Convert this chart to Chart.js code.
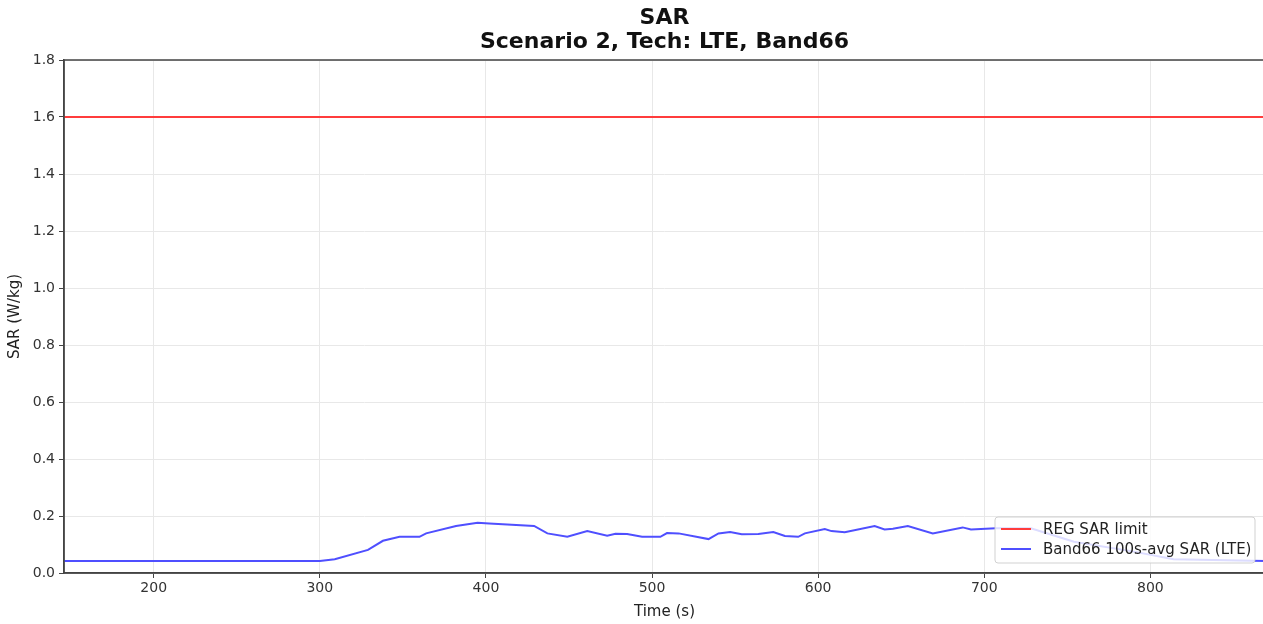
<!DOCTYPE html>
<html>
<head>
<meta charset="utf-8">
<script src="https://cdn.jsdelivr.net/npm/chart.js@4.4.1/dist/chart.umd.min.js"></script>
<style>
  html, body { margin: 0; padding: 0; overflow: hidden; background: #fff; }
  #wrap { width: 1270px; height: 624px; position: relative; }
</style>
</head>
<body>
<div id="wrap"><canvas id="sar"></canvas></div>
<script>
// 100 s averaged SAR, Band66 (LTE)
const timeS = [146, 300, 309, 329, 338, 348, 360, 364, 382, 395, 402, 429, 437, 449, 461, 473, 478, 485,
  494, 505, 509, 516, 534, 540, 547, 554, 564, 573, 580, 588, 592, 604, 608, 616, 634, 640, 645, 654,
  669, 687, 692, 707, 728, 754, 790, 814, 869]
const sarAvg = [0.042, 0.042, 0.048, 0.081, 0.113, 0.127, 0.127, 0.139, 0.165, 0.176, 0.174, 0.165, 0.139,
  0.127, 0.147, 0.131, 0.138, 0.137, 0.127, 0.127, 0.140, 0.139, 0.119, 0.139, 0.144, 0.136, 0.137, 0.144,
  0.130, 0.127, 0.139, 0.154, 0.147, 0.143, 0.165, 0.153, 0.155, 0.165, 0.139, 0.160, 0.153, 0.157,
  0.157, 0.110, 0.075, 0.048, 0.042]
const sarLimit = 1.6
const xRange = [146, 869]
const xTicks = [200, 300, 400, 500, 600, 700, 800]
const yTicks = [0, 0.2, 0.4, 0.6, 0.8, 1.0, 1.2, 1.4, 1.6, 1.8]
const titleLines = ['SAR', 'Scenario 2, Tech: LTE, Band66']

const FONT = 'DejaVu Sans'
const SPINE = '#444'

// title centred over the axes rather than the canvas
const axesTitle = {
  id: 'axesTitle',
  afterDraw(chart) {
    const { ctx, chartArea: a } = chart
    const cx = (a.left + a.right) / 2
    ctx.save()
    ctx.font = `bold 22px "${FONT}"`
    ctx.fillStyle = '#111'
    ctx.textAlign = 'center'
    ctx.textBaseline = 'middle'
    titleLines.forEach((t, i) => ctx.fillText(t, cx, 18 + i * 24))
    ctx.restore()
  }
}

// top/right spines, matplotlib style
const framePlugin = {
  id: 'frame',
  afterDatasetsDraw(chart) {
    const { ctx, chartArea: a } = chart
    ctx.save()
    ctx.strokeStyle = SPINE
    ctx.lineWidth = 1.5
    ctx.strokeRect(a.left, a.top, a.right - a.left, a.bottom - a.top)
    ctx.restore()
  }
}

// legend box in the lower right corner of the plot
const cornerLegend = {
  id: 'cornerLegend',
  afterDraw(chart) {
    const { ctx, chartArea: a } = chart
    const w = 260, h = 46
    const x = a.right - 10 - w, y = a.bottom - 10 - h
    ctx.save()
    ctx.beginPath()
    ctx.roundRect(x, y, w, h, 3)
    ctx.fillStyle = 'rgba(255,255,255,0.8)'
    ctx.fill()
    ctx.strokeStyle = 'rgba(204,204,204,0.9)'
    ctx.lineWidth = 1
    ctx.stroke()
    ctx.font = `15px "${FONT}"`
    ctx.textBaseline = 'middle'
    chart.data.datasets.forEach((ds, i) => {
      const ly = y + 12 + i * 20
      ctx.beginPath()
      ctx.moveTo(x + 6, ly)
      ctx.lineTo(x + 36, ly)
      ctx.strokeStyle = ds.borderColor
      ctx.lineWidth = 2
      ctx.stroke()
      ctx.fillStyle = '#222'
      ctx.fillText(ds.label, x + 48, ly + 1)
    })
    ctx.restore()
  }
}

const ctx = document.getElementById('sar').getContext('2d')

new Chart(ctx, {
  type: 'line',
  data: {
    datasets: [
      {
        label: 'REG SAR limit',
        borderColor: '#ff3c3c',
        borderWidth: 2,
        pointRadius: 0,
        data: xRange.map(t => ({ x: t, y: sarLimit })),
      },
      {
        label: 'Band66 100s-avg SAR (LTE)',
        borderColor: '#4f4fff',
        borderWidth: 2,
        pointRadius: 0,
        tension: 0,
        data: timeS.map((t, i) => ({ x: t, y: sarAvg[i] })),
      },
    ],
  },
  options: {
    responsive: true,
    maintainAspectRatio: false,
    animation: false,
    layout: { padding: { left: 0, right: 5, top: 60, bottom: 0 } },
    plugins: {
      legend: { display: false },
      tooltip: { enabled: false },
      title: { display: false },
    },
    scales: {
      x: {
        type: 'linear',
        min: xRange[0],
        max: xRange[1],
        afterBuildTicks: axis => { axis.ticks = xTicks.map(v => ({ value: v })) },
        afterFit: axis => { axis.height = 51 },
        ticks: { color: '#333', padding: 2, font: { family: FONT, size: 14 } },
        grid: { color: '#e8e8e8', tickColor: SPINE, tickLength: 5 },
        border: { color: SPINE, width: 1.5 },
        title: {
          display: true,
          text: 'Time (s)',
          color: '#222',
          font: { family: FONT, size: 15 },
          padding: { top: 0, bottom: 3 },
        },
      },
      y: {
        min: 0,
        max: 1.8,
        afterBuildTicks: axis => { axis.ticks = yTicks.map(v => ({ value: v })) },
        afterFit: axis => { axis.width = 64 },
        ticks: {
          color: '#333',
          padding: 4,
          font: { family: FONT, size: 14 },
          callback: v => v.toFixed(1),
        },
        grid: { color: '#e8e8e8', tickColor: SPINE, tickLength: 5 },
        border: { color: SPINE, width: 1.5 },
        title: {
          display: true,
          text: 'SAR (W/kg)',
          color: '#222',
          font: { family: FONT, size: 15 },
          padding: { top: 6, bottom: 0 },
        },
      },
    },
  },
  plugins: [framePlugin, cornerLegend, axesTitle],
})
</script>
</body>
</html>
